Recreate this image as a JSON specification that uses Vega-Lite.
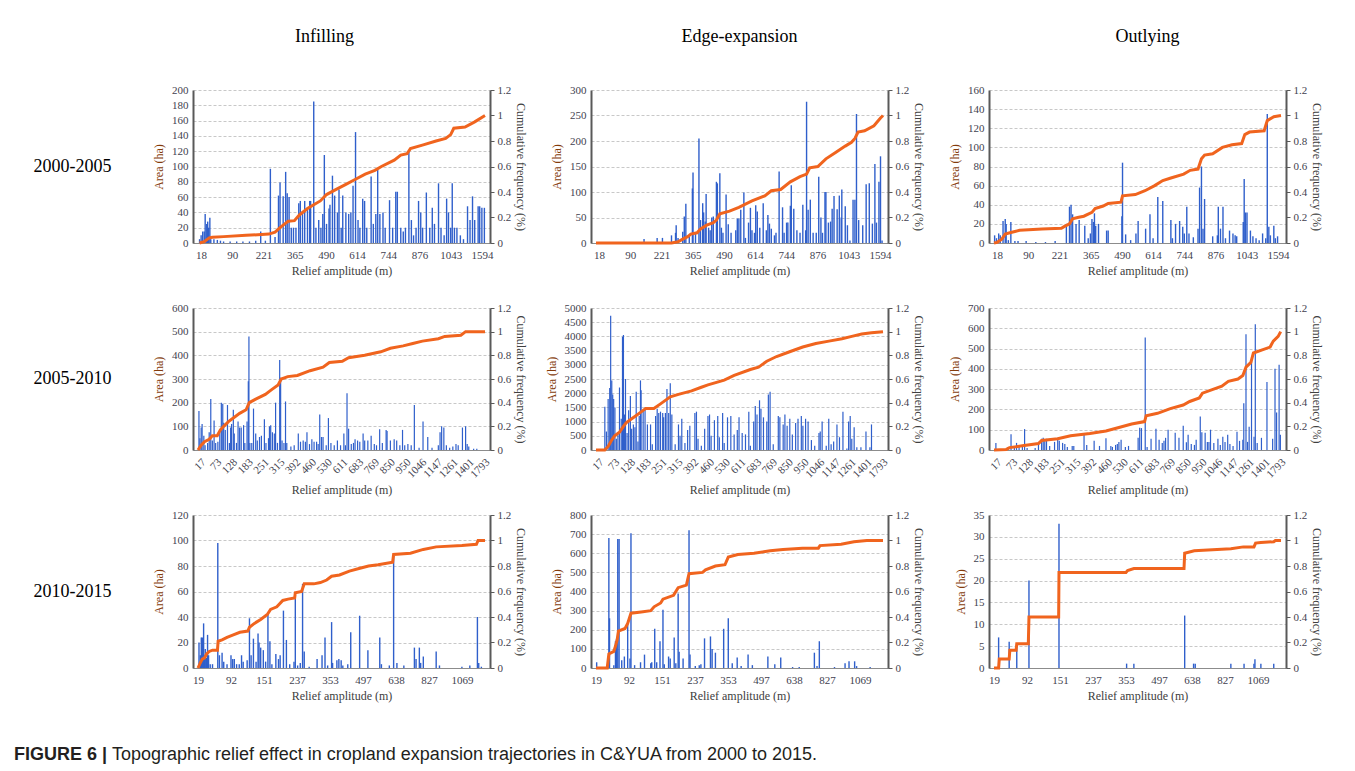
{
"$schema": "https://vega.github.io/schema/vega-lite/v6.json",
"padding": {"left": 13, "top": 28, "right": 5, "bottom": 0},
"autosize": {"type": "pad"},
"background": "white",
"datasets": {
"a1b": [{"u":-0.5,"v":5},{"u":0,"v":10},{"u":0.5,"v":15},{"u":1.0,"v":15},{"u":1.3,"v":38},{"u":1.8,"v":25},{"u":2.1,"v":28},{"u":2.4,"v":20},{"u":2.8,"v":33},{"u":3.1,"v":5},{"u":4.1,"v":5},{"u":5.2,"v":4},{"u":6.2,"v":3},{"u":7.2,"v":2},{"u":9.3,"v":2},{"u":11.4,"v":2},{"u":13.4,"v":2},{"u":15.5,"v":2},{"u":17.5,"v":3},{"u":19.1,"v":15},{"u":20.6,"v":3},{"u":22.2,"v":97},{"u":23.7,"v":8},{"u":24.8,"v":62},{"u":25.3,"v":79},{"u":26.3,"v":61},{"u":27.1,"v":93},{"u":27.6,"v":65},{"u":28.2,"v":60},{"u":28.9,"v":20},{"u":29.6,"v":20},{"u":30.4,"v":20},{"u":31.3,"v":52},{"u":31.8,"v":55},{"u":32.5,"v":40},{"u":33.2,"v":55},{"u":34.1,"v":45},{"u":34.8,"v":55},{"u":35.1,"v":55},{"u":36.1,"v":185},{"u":36.8,"v":20},{"u":37.7,"v":30},{"u":38.4,"v":20},{"u":39.0,"v":38},{"u":39.5,"v":115},{"u":40.2,"v":25},{"u":41.0,"v":45},{"u":41.3,"v":50},{"u":42.1,"v":88},{"u":42.8,"v":62},{"u":43.7,"v":40},{"u":44.2,"v":70},{"u":44.9,"v":20},{"u":45.4,"v":62},{"u":46.4,"v":40},{"u":47.3,"v":38},{"u":48.0,"v":40},{"u":48.7,"v":75},{"u":49.5,"v":145},{"u":50.3,"v":30},{"u":50.9,"v":20},{"u":51.8,"v":58},{"u":52.4,"v":55},{"u":53.1,"v":20},{"u":54.5,"v":87},{"u":55.2,"v":25},{"u":56.0,"v":38},{"u":56.6,"v":96},{"u":57.3,"v":38},{"u":58.3,"v":40},{"u":59.0,"v":20},{"u":60.4,"v":56},{"u":61.4,"v":20},{"u":62.4,"v":67},{"u":62.9,"v":67},{"u":64.0,"v":20},{"u":64.8,"v":15},{"u":65.5,"v":20},{"u":66.6,"v":120},{"u":67.4,"v":30},{"u":68.1,"v":10},{"u":68.9,"v":20},{"u":69.7,"v":55},{"u":70.4,"v":40},{"u":71.0,"v":20},{"u":72.2,"v":66},{"u":73.3,"v":20},{"u":74.1,"v":46},{"u":74.8,"v":25},{"u":76.1,"v":78},{"u":76.9,"v":20},{"u":77.9,"v":10},{"u":78.7,"v":58},{"u":79.3,"v":40},{"u":80.0,"v":20},{"u":80.5,"v":78},{"u":81.2,"v":20},{"u":82.0,"v":20},{"u":83.1,"v":10},{"u":84.1,"v":5},{"u":85.4,"v":48},{"u":86.2,"v":30},{"u":87.0,"v":61},{"u":87.7,"v":30},{"u":88.8,"v":48},{"u":89.3,"v":48},{"u":90.0,"v":46},{"u":90.8,"v":46}],
"a1c": [{"u":-0.5,"c":0},{"u":1.0,"c":0.01},{"u":2.6,"c":0.04},{"u":3.6,"c":0.045},{"u":7.2,"c":0.05},{"u":14.4,"c":0.06},{"u":21.7,"c":0.07},{"u":23.7,"c":0.085},{"u":25.3,"c":0.12},{"u":26.8,"c":0.15},{"u":27.9,"c":0.17},{"u":29.9,"c":0.175},{"u":31.5,"c":0.22},{"u":34.1,"c":0.27},{"u":36.1,"c":0.3},{"u":38.2,"c":0.33},{"u":40.2,"c":0.38},{"u":43.3,"c":0.42},{"u":46.4,"c":0.46},{"u":49.5,"c":0.5},{"u":52.6,"c":0.54},{"u":55.7,"c":0.57},{"u":57.8,"c":0.6},{"u":61.9,"c":0.65},{"u":64.0,"c":0.69},{"u":66.0,"c":0.7},{"u":67.1,"c":0.74},{"u":71.2,"c":0.77},{"u":75.3,"c":0.8},{"u":78.4,"c":0.82},{"u":80.0,"c":0.85},{"u":81.0,"c":0.9},{"u":84.6,"c":0.91},{"u":87.7,"c":0.95},{"u":91.0,"c":1.0}],
"a2b": [{"u":14.4,"v":8},{"u":18.6,"v":10},{"u":20.3,"v":10},{"u":23.2,"v":15},{"u":24.5,"v":20},{"u":24.7,"v":35},{"u":25.3,"v":10},{"u":26.8,"v":22},{"u":27.3,"v":52},{"u":27.8,"v":77},{"u":28.9,"v":15},{"u":29.9,"v":107},{"u":30.1,"v":138},{"u":30.9,"v":20},{"u":32.0,"v":205},{"u":32.5,"v":45},{"u":33.2,"v":78},{"u":33.5,"v":60},{"u":34.0,"v":42},{"u":34.3,"v":96},{"u":35.1,"v":30},{"u":35.6,"v":25},{"u":36.1,"v":50},{"u":36.6,"v":52},{"u":37.6,"v":120},{"u":37.9,"v":117},{"u":38.7,"v":137},{"u":39.2,"v":30},{"u":39.7,"v":20},{"u":40.7,"v":95},{"u":41.4,"v":37},{"u":42.3,"v":20},{"u":43.8,"v":25},{"u":44.3,"v":48},{"u":44.8,"v":48},{"u":45.4,"v":65},{"u":46.4,"v":99},{"u":46.9,"v":10},{"u":47.9,"v":40},{"u":48.5,"v":69},{"u":49.0,"v":25},{"u":49.8,"v":20},{"u":50.2,"v":74},{"u":50.7,"v":62},{"u":51.5,"v":30},{"u":52.6,"v":78},{"u":53.6,"v":25},{"u":54.1,"v":55},{"u":54.6,"v":38},{"u":55.2,"v":28},{"u":56.2,"v":15},{"u":56.7,"v":20},{"u":57.7,"v":140},{"u":58.8,"v":70},{"u":59.3,"v":20},{"u":60.1,"v":40},{"u":60.5,"v":40},{"u":61.3,"v":73},{"u":61.6,"v":113},{"u":62.4,"v":67},{"u":63.4,"v":25},{"u":64.4,"v":20},{"u":65.3,"v":75},{"u":66.2,"v":25},{"u":66.5,"v":277},{"u":67.0,"v":65},{"u":67.7,"v":85},{"u":68.6,"v":20},{"u":69.6,"v":20},{"u":70.4,"v":130},{"u":71.1,"v":50},{"u":71.6,"v":20},{"u":72.4,"v":100},{"u":72.7,"v":100},{"u":73.5,"v":40},{"u":74.2,"v":42},{"u":74.7,"v":67},{"u":75.3,"v":92},{"u":76.3,"v":66},{"u":77.0,"v":93},{"u":77.6,"v":50},{"u":77.8,"v":105},{"u":78.9,"v":72},{"u":79.6,"v":35},{"u":80.4,"v":5},{"u":81.4,"v":85},{"u":82.0,"v":85},{"u":82.5,"v":253},{"u":83.2,"v":45},{"u":84.5,"v":35},{"u":85.6,"v":115},{"u":86.6,"v":117},{"u":87.6,"v":38},{"u":88.4,"v":155},{"u":88.9,"v":40},{"u":89.7,"v":120},{"u":90.2,"v":170},{"u":90.7,"v":5}],
"a2c": [{"u":-1,"c":0},{"u":23.2,"c":0},{"u":25.3,"c":0.01},{"u":26.8,"c":0.03},{"u":28.4,"c":0.05},{"u":29.4,"c":0.07},{"u":31.4,"c":0.08},{"u":32.5,"c":0.11},{"u":34.5,"c":0.14},{"u":36.6,"c":0.16},{"u":37.6,"c":0.18},{"u":38.7,"c":0.23},{"u":41.8,"c":0.25},{"u":44.8,"c":0.28},{"u":49.0,"c":0.33},{"u":53.1,"c":0.37},{"u":55.2,"c":0.41},{"u":58.2,"c":0.42},{"u":61.3,"c":0.48},{"u":64.4,"c":0.52},{"u":66.5,"c":0.54},{"u":67.5,"c":0.59},{"u":70.1,"c":0.6},{"u":72.7,"c":0.66},{"u":75.8,"c":0.71},{"u":78.9,"c":0.76},{"u":80.9,"c":0.79},{"u":82.0,"c":0.82},{"u":83.0,"c":0.87},{"u":85.1,"c":0.88},{"u":88.1,"c":0.92},{"u":90.2,"c":0.98},{"u":91.0,"c":1.0}],
"a3b": [{"u":-0.8,"v":8},{"u":-0.2,"v":5},{"u":0.5,"v":10},{"u":1.0,"v":8},{"u":1.9,"v":23},{"u":2.6,"v":25},{"u":2.9,"v":20},{"u":3.6,"v":3},{"u":4.4,"v":22},{"u":5.7,"v":2},{"u":6.7,"v":2},{"u":9.3,"v":2},{"u":12.4,"v":1},{"u":15.5,"v":1},{"u":18.6,"v":2},{"u":22.2,"v":20},{"u":23.2,"v":38},{"u":23.7,"v":40},{"u":24.2,"v":30},{"u":25.3,"v":20},{"u":26.3,"v":24},{"u":28.1,"v":18},{"u":29.2,"v":5},{"u":29.9,"v":10},{"u":30.4,"v":25},{"u":30.9,"v":22},{"u":31.2,"v":31},{"u":31.6,"v":18},{"u":32.5,"v":20},{"u":35.1,"v":13},{"u":35.6,"v":13},{"u":40.0,"v":28},{"u":40.2,"v":84},{"u":41.2,"v":9},{"u":42.8,"v":3},{"u":44.5,"v":10},{"u":45.2,"v":23},{"u":47.6,"v":15},{"u":49.0,"v":30},{"u":50.0,"v":5},{"u":51.5,"v":48},{"u":53.1,"v":44},{"u":55.7,"v":24},{"u":56.2,"v":5},{"u":57.2,"v":20},{"u":58.5,"v":23},{"u":59.5,"v":17},{"u":60.0,"v":10},{"u":60.8,"v":38},{"u":61.5,"v":10},{"u":62.9,"v":6},{"u":64.4,"v":15},{"u":64.9,"v":58},{"u":65.5,"v":80},{"u":66.0,"v":15},{"u":66.5,"v":46},{"u":69.1,"v":7},{"u":70.6,"v":8},{"u":70.9,"v":38},{"u":71.6,"v":15},{"u":72.4,"v":38},{"u":73.2,"v":5},{"u":74.5,"v":13},{"u":75.6,"v":10},{"u":76.3,"v":8},{"u":76.8,"v":7},{"u":78.9,"v":22},{"u":79.2,"v":67},{"u":79.6,"v":32},{"u":80.1,"v":32},{"u":81.2,"v":13},{"u":82.0,"v":7},{"u":83.0,"v":5},{"u":84.0,"v":3},{"u":85.1,"v":10},{"u":86.1,"v":5},{"u":86.6,"v":135},{"u":87.1,"v":17},{"u":87.6,"v":8},{"u":88.7,"v":18},{"u":89.2,"v":5},{"u":89.9,"v":7}],
"a3c": [{"u":-1,"c":0},{"u":0,"c":0.005},{"u":1.5,"c":0.03},{"u":2.6,"c":0.07},{"u":4.1,"c":0.08},{"u":5.7,"c":0.09},{"u":7.2,"c":0.1},{"u":14.4,"c":0.11},{"u":20.6,"c":0.115},{"u":21.6,"c":0.13},{"u":23.2,"c":0.15},{"u":24.2,"c":0.19},{"u":25.8,"c":0.2},{"u":27.8,"c":0.21},{"u":30.4,"c":0.24},{"u":31.4,"c":0.27},{"u":34.0,"c":0.29},{"u":35.6,"c":0.31},{"u":39.7,"c":0.32},{"u":40.2,"c":0.37},{"u":44.3,"c":0.38},{"u":47.4,"c":0.41},{"u":50.5,"c":0.45},{"u":53.1,"c":0.49},{"u":55.7,"c":0.51},{"u":59.8,"c":0.54},{"u":61.9,"c":0.57},{"u":64.4,"c":0.58},{"u":65.5,"c":0.66},{"u":66.5,"c":0.69},{"u":69.1,"c":0.7},{"u":72.2,"c":0.75},{"u":75.3,"c":0.77},{"u":78.4,"c":0.78},{"u":79.4,"c":0.85},{"u":80.9,"c":0.87},{"u":85.6,"c":0.88},{"u":86.6,"c":0.96},{"u":88.7,"c":0.99},{"u":91.0,"c":1.0}],
"b1b": [{"u":-0.4,"v":165},{"u":0.2,"v":50},{"u":1.0,"v":95},{"u":1.6,"v":110},{"u":2.7,"v":60},{"u":3.5,"v":20},{"u":5.1,"v":30},{"u":6.1,"v":75},{"u":7.1,"v":215},{"u":8.1,"v":40},{"u":9.2,"v":125},{"u":10.2,"v":30},{"u":11.6,"v":35},{"u":12.8,"v":75},{"u":13.8,"v":200},{"u":14.7,"v":195},{"u":15.3,"v":115},{"u":16.3,"v":85},{"u":17.7,"v":190},{"u":18.9,"v":30},{"u":19.7,"v":95},{"u":20.3,"v":110},{"u":21.4,"v":170},{"u":22.0,"v":70},{"u":23.4,"v":30},{"u":24.4,"v":120},{"u":25.4,"v":95},{"u":26.4,"v":95},{"u":27.9,"v":105},{"u":28.7,"v":30},{"u":30.1,"v":120},{"u":30.9,"v":290},{"u":31.3,"v":480},{"u":31.9,"v":30},{"u":33.1,"v":30},{"u":34.2,"v":175},{"u":35.6,"v":70},{"u":36.6,"v":40},{"u":38.0,"v":55},{"u":39.2,"v":60},{"u":41.1,"v":130},{"u":42.1,"v":30},{"u":43.7,"v":50},{"u":44.3,"v":100},{"u":45.1,"v":105},{"u":46.2,"v":75},{"u":47.4,"v":70},{"u":48.2,"v":200},{"u":49.4,"v":30},{"u":50.8,"v":380},{"u":51.4,"v":305},{"u":52.3,"v":40},{"u":53.5,"v":30},{"u":54.5,"v":205},{"u":55.3,"v":30},{"u":57.9,"v":15},{"u":60.0,"v":20},{"u":62.6,"v":70},{"u":64.0,"v":35},{"u":65.7,"v":40},{"u":67.1,"v":35},{"u":68.1,"v":75},{"u":69.7,"v":25},{"u":71.2,"v":45},{"u":72.6,"v":35},{"u":74.2,"v":35},{"u":75.2,"v":25},{"u":76.2,"v":150},{"u":77.3,"v":55},{"u":78.3,"v":55},{"u":80.3,"v":20},{"u":81.7,"v":135},{"u":83.3,"v":30},{"u":85.4,"v":20},{"u":87.4,"v":40},{"u":89.4,"v":20},{"u":91.5,"v":70},{"u":92.5,"v":20},{"u":93.5,"v":240},{"u":94.5,"v":90},{"u":96.2,"v":25},{"u":97.6,"v":30},{"u":98.6,"v":45},{"u":100.2,"v":40},{"u":101.6,"v":35},{"u":103.7,"v":70},{"u":104.7,"v":40},{"u":106.7,"v":40},{"u":108.8,"v":60},{"u":110.8,"v":25},{"u":112.2,"v":20},{"u":114.2,"v":88},{"u":115.9,"v":30},{"u":118.3,"v":85},{"u":118.9,"v":80},{"u":121.0,"v":40},{"u":123.4,"v":45},{"u":125.0,"v":40},{"u":127.0,"v":20},{"u":128.7,"v":85},{"u":130.1,"v":20},{"u":132.1,"v":25},{"u":134.2,"v":20},{"u":136.2,"v":190},{"u":139.2,"v":10},{"u":141.7,"v":120},{"u":144.7,"v":55},{"u":147.4,"v":10},{"u":151.4,"v":20},{"u":152.5,"v":75},{"u":153.5,"v":100},{"u":154.9,"v":95},{"u":156.5,"v":20},{"u":158.6,"v":10},{"u":160.6,"v":15},{"u":162.6,"v":25},{"u":164.0,"v":20},{"u":166.7,"v":95},{"u":168.7,"v":100},{"u":169.7,"v":25},{"u":170.7,"v":15},{"u":173.8,"v":5},{"u":175.8,"v":5}],
"b1c": [{"u":-1,"c":0},{"u":1.0,"c":0.04},{"u":3.1,"c":0.07},{"u":6.1,"c":0.09},{"u":8.1,"c":0.12},{"u":11.2,"c":0.12},{"u":13.2,"c":0.17},{"u":15.3,"c":0.2},{"u":18.3,"c":0.24},{"u":21.4,"c":0.27},{"u":25.4,"c":0.31},{"u":29.5,"c":0.34},{"u":31.5,"c":0.4},{"u":35.6,"c":0.43},{"u":41.7,"c":0.47},{"u":45.7,"c":0.51},{"u":49.8,"c":0.55},{"u":51.8,"c":0.6},{"u":55.9,"c":0.62},{"u":62.0,"c":0.63},{"u":70.1,"c":0.67},{"u":78.3,"c":0.7},{"u":82.3,"c":0.74},{"u":90.5,"c":0.75},{"u":94.5,"c":0.78},{"u":104.7,"c":0.8},{"u":114.9,"c":0.83},{"u":121.0,"c":0.86},{"u":129.1,"c":0.88},{"u":135.2,"c":0.9},{"u":141.3,"c":0.92},{"u":151.4,"c":0.94},{"u":155.5,"c":0.96},{"u":165.7,"c":0.97},{"u":168.7,"c":1.0},{"u":181,"c":1.0}],
"b2b": [{"u":4.6,"v":1520},{"u":5.6,"v":650},{"u":6.7,"v":1800},{"u":7.7,"v":2180},{"u":8.3,"v":4730},{"u":9.0,"v":2450},{"u":9.6,"v":1950},{"u":10.2,"v":1800},{"u":11.0,"v":1500},{"u":11.9,"v":400},{"u":12.9,"v":550},{"u":13.9,"v":2200},{"u":15.0,"v":1100},{"u":15.8,"v":3990},{"u":16.4,"v":4050},{"u":17.0,"v":1250},{"u":17.7,"v":2500},{"u":18.7,"v":600},{"u":19.7,"v":1400},{"u":20.8,"v":1900},{"u":21.6,"v":750},{"u":22.7,"v":900},{"u":23.7,"v":800},{"u":24.5,"v":2050},{"u":25.6,"v":300},{"u":26.4,"v":1200},{"u":27.2,"v":2450},{"u":27.6,"v":2100},{"u":28.9,"v":1400},{"u":30.1,"v":1500},{"u":31.6,"v":900},{"u":33.6,"v":900},{"u":34.7,"v":200},{"u":36.8,"v":1200},{"u":37.8,"v":1450},{"u":38.8,"v":1300},{"u":39.9,"v":1350},{"u":41.3,"v":1300},{"u":41.9,"v":1150},{"u":43.0,"v":1300},{"u":44.0,"v":2150},{"u":45.1,"v":1300},{"u":46.1,"v":2350},{"u":47.1,"v":1250},{"u":49.2,"v":200},{"u":51.3,"v":900},{"u":52.3,"v":500},{"u":53.4,"v":1100},{"u":55.4,"v":250},{"u":57.1,"v":700},{"u":58.5,"v":850},{"u":61.7,"v":1300},{"u":62.7,"v":1350},{"u":63.7,"v":400},{"u":65.8,"v":150},{"u":67.9,"v":750},{"u":70.0,"v":1200},{"u":71.0,"v":1250},{"u":72.0,"v":500},{"u":74.1,"v":1050},{"u":76.2,"v":1200},{"u":77.2,"v":450},{"u":79.3,"v":1300},{"u":80.3,"v":250},{"u":82.4,"v":1150},{"u":84.5,"v":1200},{"u":86.6,"v":550},{"u":88.6,"v":700},{"u":89.7,"v":1150},{"u":91.7,"v":600},{"u":93.8,"v":550},{"u":95.9,"v":1350},{"u":96.9,"v":150},{"u":99.0,"v":1000},{"u":100.0,"v":1550},{"u":101.1,"v":1250},{"u":102.7,"v":1750},{"u":103.6,"v":1450},{"u":105.2,"v":1150},{"u":107.3,"v":1000},{"u":108.3,"v":1950},{"u":109.4,"v":2050},{"u":111.4,"v":200},{"u":114.6,"v":1200},{"u":115.6,"v":1150},{"u":117.7,"v":900},{"u":118.8,"v":1250},{"u":120.2,"v":850},{"u":121.9,"v":1100},{"u":123.5,"v":550},{"u":125.6,"v":950},{"u":127.1,"v":1100},{"u":129.2,"v":1200},{"u":130.2,"v":850},{"u":131.9,"v":1100},{"u":133.5,"v":1000},{"u":135.6,"v":350},{"u":137.7,"v":150},{"u":140.4,"v":600},{"u":141.2,"v":650},{"u":142.4,"v":1000},{"u":145.0,"v":150},{"u":146.6,"v":1100},{"u":148.1,"v":200},{"u":149.7,"v":300},{"u":151.8,"v":900},{"u":153.4,"v":450},{"u":155.6,"v":1350},{"u":158.1,"v":50},{"u":159.2,"v":1000},{"u":160.2,"v":1200},{"u":161.2,"v":400},{"u":162.7,"v":800},{"u":164.4,"v":100},{"u":167.0,"v":100},{"u":170.2,"v":650},{"u":172.7,"v":100},{"u":173.7,"v":900}],
"b2c": [{"u":-1,"c":0},{"u":4.6,"c":0},{"u":6.7,"c":0.03},{"u":8.8,"c":0.08},{"u":10.8,"c":0.12},{"u":13.9,"c":0.15},{"u":16.4,"c":0.2},{"u":18.1,"c":0.23},{"u":21.2,"c":0.26},{"u":24.3,"c":0.29},{"u":27.4,"c":0.32},{"u":30.5,"c":0.35},{"u":35.7,"c":0.35},{"u":39.9,"c":0.39},{"u":46.1,"c":0.45},{"u":51.3,"c":0.47},{"u":59.6,"c":0.5},{"u":65.8,"c":0.53},{"u":70.0,"c":0.55},{"u":80.3,"c":0.59},{"u":86.6,"c":0.63},{"u":96.9,"c":0.68},{"u":102.1,"c":0.7},{"u":107.3,"c":0.75},{"u":113.5,"c":0.79},{"u":121.8,"c":0.83},{"u":130.1,"c":0.87},{"u":138.4,"c":0.9},{"u":146.7,"c":0.92},{"u":155.0,"c":0.94},{"u":161.2,"c":0.96},{"u":167.5,"c":0.98},{"u":173.7,"c":0.99},{"u":181,"c":1.0}],
"b3b": [{"u":0.2,"v":35},{"u":2.7,"v":5},{"u":7.8,"v":15},{"u":9.8,"v":78},{"u":11.9,"v":20},{"u":13.3,"v":35},{"u":14.9,"v":25},{"u":17.0,"v":25},{"u":18.4,"v":103},{"u":20.0,"v":10},{"u":25.1,"v":10},{"u":27.2,"v":40},{"u":29.2,"v":55},{"u":30.2,"v":60},{"u":31.2,"v":45},{"u":32.3,"v":55},{"u":34.3,"v":20},{"u":37.4,"v":40},{"u":39.4,"v":60},{"u":40.4,"v":45},{"u":42.5,"v":35},{"u":43.9,"v":30},{"u":45.5,"v":15},{"u":48.6,"v":20},{"u":49.6,"v":20},{"u":56.1,"v":75},{"u":57.8,"v":25},{"u":62.5,"v":45},{"u":65.9,"v":20},{"u":70.0,"v":58},{"u":73.1,"v":20},{"u":74.1,"v":15},{"u":76.1,"v":25},{"u":77.2,"v":30},{"u":78.2,"v":40},{"u":79.6,"v":50},{"u":82.3,"v":15},{"u":84.3,"v":20},{"u":90.4,"v":60},{"u":91.4,"v":110},{"u":92.5,"v":108},{"u":94.9,"v":555},{"u":96.1,"v":15},{"u":98.6,"v":55},{"u":101.7,"v":105},{"u":103.7,"v":50},{"u":105.7,"v":35},{"u":106.8,"v":45},{"u":107.8,"v":60},{"u":109.4,"v":100},{"u":113.9,"v":85},{"u":116.3,"v":60},{"u":119.0,"v":120},{"u":121.0,"v":38},{"u":122.1,"v":75},{"u":124.1,"v":30},{"u":126.1,"v":25},{"u":127.2,"v":50},{"u":129.8,"v":165},{"u":130.8,"v":88},{"u":132.9,"v":85},{"u":134.3,"v":40},{"u":135.3,"v":40},{"u":136.3,"v":100},{"u":138.4,"v":35},{"u":141.0,"v":55},{"u":142.5,"v":25},{"u":144.1,"v":65},{"u":145.5,"v":40},{"u":147.2,"v":75},{"u":148.6,"v":30},{"u":150.6,"v":20},{"u":153.1,"v":90},{"u":154.7,"v":45},{"u":156.8,"v":50},{"u":157.4,"v":230},{"u":158.8,"v":570},{"u":159.8,"v":40},{"u":160.8,"v":115},{"u":162.3,"v":450},{"u":163.9,"v":65},{"u":164.7,"v":620},{"u":165.9,"v":35},{"u":168.6,"v":60},{"u":172.1,"v":335},{"u":175.7,"v":55},{"u":177.2,"v":400},{"u":178.2,"v":185},{"u":179.8,"v":420},{"u":180.6,"v":75}],
"b3c": [{"u":-1,"c":0},{"u":6.8,"c":0.005},{"u":8.8,"c":0.02},{"u":17.0,"c":0.035},{"u":27.2,"c":0.055},{"u":29.2,"c":0.08},{"u":39.4,"c":0.095},{"u":47.6,"c":0.12},{"u":59.8,"c":0.14},{"u":70.0,"c":0.16},{"u":78.2,"c":0.19},{"u":86.3,"c":0.22},{"u":94.5,"c":0.24},{"u":95.5,"c":0.29},{"u":102.7,"c":0.31},{"u":110.8,"c":0.35},{"u":119.0,"c":0.38},{"u":123.1,"c":0.41},{"u":129.2,"c":0.44},{"u":131.2,"c":0.48},{"u":137.4,"c":0.51},{"u":143.5,"c":0.54},{"u":147.6,"c":0.58},{"u":153.7,"c":0.6},{"u":156.8,"c":0.63},{"u":158.8,"c":0.7},{"u":161.9,"c":0.74},{"u":163.5,"c":0.82},{"u":170.0,"c":0.85},{"u":174.1,"c":0.87},{"u":176.1,"c":0.92},{"u":179.2,"c":0.96},{"u":180.8,"c":1.0}],
"c1b": [{"u":0.3,"v":20},{"u":0.7,"v":10},{"u":1.0,"v":24},{"u":1.3,"v":24},{"u":1.7,"v":35},{"u":2.0,"v":10},{"u":2.2,"v":15},{"u":2.6,"v":8},{"u":2.9,"v":26},{"u":3.2,"v":10},{"u":3.7,"v":3},{"u":4.4,"v":3},{"u":6.0,"v":98},{"u":6.5,"v":10},{"u":7.3,"v":12},{"u":7.8,"v":5},{"u":8.8,"v":3},{"u":10.0,"v":10},{"u":10.5,"v":7},{"u":11.0,"v":7},{"u":11.7,"v":3},{"u":12.5,"v":3},{"u":13.2,"v":10},{"u":13.7,"v":5},{"u":14.9,"v":6},{"u":15.6,"v":39},{"u":16.1,"v":10},{"u":16.8,"v":23},{"u":17.6,"v":5},{"u":18.2,"v":27},{"u":18.5,"v":20},{"u":19.0,"v":16},{"u":19.8,"v":14},{"u":20.5,"v":5},{"u":21.2,"v":43},{"u":21.8,"v":21},{"u":22.4,"v":3},{"u":23.6,"v":11},{"u":24.4,"v":7},{"u":24.9,"v":10},{"u":25.9,"v":45},{"u":26.8,"v":22},{"u":27.8,"v":3},{"u":29.1,"v":5},{"u":29.5,"v":57},{"u":30.2,"v":2},{"u":31.0,"v":4},{"u":31.7,"v":66},{"u":32.2,"v":13},{"u":33.7,"v":1},{"u":36.1,"v":7},{"u":37.6,"v":10},{"u":38.5,"v":24},{"u":39.3,"v":2},{"u":40.5,"v":36},{"u":40.8,"v":4},{"u":42.1,"v":6},{"u":42.7,"v":7},{"u":43.4,"v":6},{"u":43.9,"v":2},{"u":45.4,"v":3},{"u":46.3,"v":28},{"u":49.0,"v":41},{"u":51.5,"v":14},{"u":55.1,"v":24},{"u":55.6,"v":3},{"u":58.0,"v":2},{"u":59.3,"v":88},{"u":60.3,"v":4},{"u":62.4,"v":2},{"u":65.6,"v":16},{"u":66.1,"v":7},{"u":67.1,"v":16},{"u":67.5,"v":4},{"u":68.3,"v":9},{"u":72.2,"v":13},{"u":73.2,"v":2},{"u":80.0,"v":1},{"u":82.4,"v":2},{"u":84.7,"v":40},{"u":85.1,"v":4},{"u":85.9,"v":1}],
"c1c": [{"u":0,"c":0},{"u":0.7,"c":0.04},{"u":1.3,"c":0.07},{"u":2.0,"c":0.08},{"u":2.6,"c":0.11},{"u":3.4,"c":0.13},{"u":4.4,"c":0.14},{"u":5.9,"c":0.14},{"u":6.1,"c":0.21},{"u":7.3,"c":0.22},{"u":8.8,"c":0.24},{"u":10.7,"c":0.26},{"u":12.7,"c":0.28},{"u":15.1,"c":0.29},{"u":15.6,"c":0.32},{"u":17.1,"c":0.35},{"u":19.0,"c":0.38},{"u":21.0,"c":0.42},{"u":22.0,"c":0.46},{"u":23.9,"c":0.48},{"u":25.7,"c":0.53},{"u":27.3,"c":0.54},{"u":29.3,"c":0.55},{"u":29.5,"c":0.59},{"u":31.4,"c":0.6},{"u":32.2,"c":0.66},{"u":35.1,"c":0.66},{"u":37.1,"c":0.67},{"u":39.0,"c":0.69},{"u":40.5,"c":0.72},{"u":42.9,"c":0.73},{"u":45.9,"c":0.76},{"u":48.8,"c":0.78},{"u":51.7,"c":0.8},{"u":54.6,"c":0.81},{"u":59.0,"c":0.83},{"u":59.3,"c":0.89},{"u":64.4,"c":0.9},{"u":68.3,"c":0.93},{"u":72.2,"c":0.95},{"u":80.0,"c":0.96},{"u":84.4,"c":0.97},{"u":84.9,"c":1.0},{"u":87,"c":1.0}],
"c2b": [{"u":0.2,"v":30},{"u":3.9,"v":680},{"u":4.1,"v":260},{"u":5.4,"v":15},{"u":5.9,"v":140},{"u":6.2,"v":150},{"u":6.6,"v":675},{"u":7.0,"v":675},{"u":7.8,"v":40},{"u":8.6,"v":60},{"u":9.6,"v":250},{"u":10.3,"v":50},{"u":10.6,"v":705},{"u":11.7,"v":15},{"u":13.5,"v":30},{"u":14.7,"v":70},{"u":16.6,"v":25},{"u":16.9,"v":30},{"u":17.8,"v":205},{"u":18.4,"v":30},{"u":19.4,"v":140},{"u":20.3,"v":305},{"u":20.7,"v":20},{"u":22.0,"v":60},{"u":22.5,"v":50},{"u":23.7,"v":160},{"u":24.2,"v":25},{"u":24.9,"v":390},{"u":25.2,"v":85},{"u":26.4,"v":50},{"u":28.2,"v":720},{"u":28.5,"v":70},{"u":30.1,"v":10},{"u":31.3,"v":15},{"u":31.8,"v":20},{"u":32.9,"v":155},{"u":34.7,"v":165},{"u":35.2,"v":100},{"u":36.2,"v":80},{"u":38.7,"v":205},{"u":40.1,"v":260},{"u":41.3,"v":25},{"u":42.8,"v":55},{"u":44.0,"v":10},{"u":46.1,"v":70},{"u":47.4,"v":15},{"u":52.1,"v":60},{"u":54.2,"v":20},{"u":56.0,"v":55},{"u":59.6,"v":5},{"u":61.6,"v":5},{"u":66.2,"v":80},{"u":67.0,"v":10},{"u":67.7,"v":140},{"u":72.3,"v":5},{"u":75.5,"v":25},{"u":76.7,"v":35},{"u":78.4,"v":35},{"u":79.0,"v":10},{"u":83.1,"v":5}],
"c2c": [{"u":0,"c":0},{"u":3.4,"c":0},{"u":3.9,"c":0.11},{"u":5.4,"c":0.13},{"u":5.9,"c":0.17},{"u":6.4,"c":0.22},{"u":6.8,"c":0.29},{"u":8.8,"c":0.31},{"u":9.6,"c":0.35},{"u":10.6,"c":0.43},{"u":13.7,"c":0.44},{"u":16.6,"c":0.45},{"u":17.6,"c":0.48},{"u":19.6,"c":0.51},{"u":20.3,"c":0.54},{"u":23.5,"c":0.57},{"u":24.9,"c":0.63},{"u":27.4,"c":0.65},{"u":28.2,"c":0.74},{"u":32.3,"c":0.75},{"u":33.2,"c":0.77},{"u":36.2,"c":0.8},{"u":39.1,"c":0.81},{"u":40.1,"c":0.87},{"u":43.0,"c":0.89},{"u":47.9,"c":0.9},{"u":52.8,"c":0.92},{"u":56.7,"c":0.93},{"u":62.6,"c":0.94},{"u":67.4,"c":0.94},{"u":67.9,"c":0.96},{"u":74.3,"c":0.97},{"u":78.2,"c":0.99},{"u":82.1,"c":1.0},{"u":87,"c":1.0}],
"c3b": [{"u":1.4,"v":7},{"u":4.6,"v":6},{"u":6.9,"v":5},{"u":10.6,"v":20},{"u":19.7,"v":33},{"u":40.2,"v":1},{"u":42.4,"v":1},{"u":57.8,"v":12},{"u":60.5,"v":1},{"u":61.0,"v":1},{"u":71.8,"v":1},{"u":75.8,"v":1},{"u":78.8,"v":1},{"u":79.1,"v":2},{"u":80.9,"v":1},{"u":84.8,"v":1}],
"c3c": [{"u":0,"c":0},{"u":1.4,"c":0},{"u":1.6,"c":0.07},{"u":4.6,"c":0.07},{"u":4.8,"c":0.14},{"u":6.7,"c":0.14},{"u":6.9,"c":0.19},{"u":10.4,"c":0.19},{"u":10.6,"c":0.4},{"u":19.6,"c":0.4},{"u":19.7,"c":0.75},{"u":40.0,"c":0.75},{"u":40.5,"c":0.765},{"u":42.4,"c":0.78},{"u":57.6,"c":0.78},{"u":57.8,"c":0.9},{"u":60.7,"c":0.92},{"u":71.8,"c":0.935},{"u":75.6,"c":0.95},{"u":78.8,"c":0.95},{"u":79.3,"c":0.98},{"u":80.9,"c":0.985},{"u":84.8,"c":0.99},{"u":85.3,"c":1.0},{"u":87,"c":1.0}]
},
"vconcat": [
{"concat": [
  {"width": 79, "height": 153, "data": {"values": [{"t": "2000-2005"}]}, "mark": {"type": "text", "font": "Liberation Serif", "fontSize": 18, "color": "#000000", "dx": 20}, "encoding": {"text": {"field": "t"}}},
  {"width": 297, "height": 153, "title": {"text": "Infilling", "font": "Liberation Serif", "fontSize": 18, "fontWeight": "normal", "color": "#000000", "offset": 38, "dx": -17},
   "encoding": {"x": {"field": "u", "type": "quantitative", "scale": {"domain": [-1, 91], "nice": false, "zero": false}, "axis": {"title": "Relief amplitude (m)", "values": [0,10,20,30,40,50,60,70,80,90], "labelExpr": "['18','90','221','365','490','614','744','876','1043','1594'][round(datum.value/10)]", "labelAngle": 0, "labelFlush": false, "labelOverlap": false}}},
   "layer": [
    {"data": {"name": "a1b"}, "mark": {"type": "bar", "width": 1.4, "color": "#2F5FCB"}, "encoding": {"y": {"field": "v", "type": "quantitative", "scale": {"domain": [0, 200], "nice": false}, "axis": {"title": "Area (ha)", "values": [0,20,40,60,80,100,120,140,160,180,200], "format": "d"}}}},
    {"data": {"name": "a1c"}, "mark": {"type": "line", "color": "#F0641E", "strokeWidth": 3}, "encoding": {"y": {"field": "c", "type": "quantitative", "scale": {"domain": [0, 1.2], "nice": false}, "axis": {"orient": "right", "title": "Cumulative frequency (%)", "values": [0,0.2,0.4,0.6,0.8,1,1.2], "format": "~g"}}}}
   ],
   "resolve": {"scale": {"y": "independent"}}},
  {"width": 297, "height": 153, "title": {"text": "Edge-expansion", "font": "Liberation Serif", "fontSize": 18, "fontWeight": "normal", "color": "#000000", "offset": 38},
   "encoding": {"x": {"field": "u", "type": "quantitative", "scale": {"domain": [-1, 91], "nice": false, "zero": false}, "axis": {"title": "Relief amplitude (m)", "values": [0,10,20,30,40,50,60,70,80,90], "labelExpr": "['18','90','221','365','490','614','744','876','1043','1594'][round(datum.value/10)]", "labelAngle": 0, "labelFlush": false, "labelOverlap": false}}},
   "layer": [
    {"data": {"name": "a2b"}, "mark": {"type": "bar", "width": 1.4, "color": "#2F5FCB"}, "encoding": {"y": {"field": "v", "type": "quantitative", "scale": {"domain": [0, 300], "nice": false}, "axis": {"title": "Area (ha)", "values": [0,50,100,150,200,250,300], "format": "d"}}}},
    {"data": {"name": "a2c"}, "mark": {"type": "line", "color": "#F0641E", "strokeWidth": 3}, "encoding": {"y": {"field": "c", "type": "quantitative", "scale": {"domain": [0, 1.2], "nice": false}, "axis": {"orient": "right", "title": "Cumulative frequency (%)", "values": [0,0.2,0.4,0.6,0.8,1,1.2], "format": "~g"}}}}
   ],
   "resolve": {"scale": {"y": "independent"}}},
  {"width": 297, "height": 153, "title": {"text": "Outlying", "font": "Liberation Serif", "fontSize": 18, "fontWeight": "normal", "color": "#000000", "offset": 38, "dx": 10},
   "encoding": {"x": {"field": "u", "type": "quantitative", "scale": {"domain": [-1, 91], "nice": false, "zero": false}, "axis": {"title": "Relief amplitude (m)", "values": [0,10,20,30,40,50,60,70,80,90], "labelExpr": "['18','90','221','365','490','614','744','876','1043','1594'][round(datum.value/10)]", "labelAngle": 0, "labelFlush": false, "labelOverlap": false}}},
   "layer": [
    {"data": {"name": "a3b"}, "mark": {"type": "bar", "width": 1.4, "color": "#2F5FCB"}, "encoding": {"y": {"field": "v", "type": "quantitative", "scale": {"domain": [0, 160], "nice": false}, "axis": {"title": "Area (ha)", "values": [0,20,40,60,80,100,120,140,160], "format": "d"}}}},
    {"data": {"name": "a3c"}, "mark": {"type": "line", "color": "#F0641E", "strokeWidth": 3}, "encoding": {"y": {"field": "c", "type": "quantitative", "scale": {"domain": [0, 1.2], "nice": false}, "axis": {"orient": "right", "title": "Cumulative frequency (%)", "values": [0,0.2,0.4,0.6,0.8,1,1.2], "format": "~g"}}}}
   ],
   "resolve": {"scale": {"y": "independent"}}},
  {"width": 79, "height": 142, "data": {"values": [{"t": "2005-2010"}]}, "mark": {"type": "text", "font": "Liberation Serif", "fontSize": 18, "color": "#000000", "dx": 20}, "encoding": {"text": {"field": "t"}}},
  {"width": 297, "height": 142,
   "encoding": {"x": {"field": "u", "type": "quantitative", "scale": {"domain": [-1, 181], "nice": false, "zero": false}, "axis": {"title": "Relief amplitude (m)", "values": [0,10,20,30,40,50,60,70,80,90,100,110,120,130,140,150,160,170,180], "labelExpr": "['17','73','128','183','251','315','392','460','530','611','683','769','850','950','1046','1147','1261','1401','1793'][round(datum.value/10)]", "labelAngle": -45, "labelFlush": false, "labelOverlap": false}}},
   "layer": [
    {"data": {"name": "b1b"}, "mark": {"type": "bar", "width": 1.2, "color": "#2F5FCB"}, "encoding": {"y": {"field": "v", "type": "quantitative", "scale": {"domain": [0, 600], "nice": false}, "axis": {"title": "Area (ha)", "values": [0,100,200,300,400,500,600], "format": "d"}}}},
    {"data": {"name": "b1c"}, "mark": {"type": "line", "color": "#F0641E", "strokeWidth": 3}, "encoding": {"y": {"field": "c", "type": "quantitative", "scale": {"domain": [0, 1.2], "nice": false}, "axis": {"orient": "right", "title": "Cumulative frequency (%)", "values": [0,0.2,0.4,0.6,0.8,1,1.2], "format": "~g"}}}}
   ],
   "resolve": {"scale": {"y": "independent"}}},
  {"width": 297, "height": 142,
   "encoding": {"x": {"field": "u", "type": "quantitative", "scale": {"domain": [-1, 181], "nice": false, "zero": false}, "axis": {"title": "Relief amplitude (m)", "values": [0,10,20,30,40,50,60,70,80,90,100,110,120,130,140,150,160,170,180], "labelExpr": "['17','73','128','183','251','315','392','460','530','611','683','769','850','950','1046','1147','1261','1401','1793'][round(datum.value/10)]", "labelAngle": -45, "labelFlush": false, "labelOverlap": false}}},
   "layer": [
    {"data": {"name": "b2b"}, "mark": {"type": "bar", "width": 1.2, "color": "#2F5FCB"}, "encoding": {"y": {"field": "v", "type": "quantitative", "scale": {"domain": [0, 5000], "nice": false}, "axis": {"title": "Area (ha)", "values": [0,500,1000,1500,2000,2500,3000,3500,4000,4500,5000], "format": "d"}}}},
    {"data": {"name": "b2c"}, "mark": {"type": "line", "color": "#F0641E", "strokeWidth": 3}, "encoding": {"y": {"field": "c", "type": "quantitative", "scale": {"domain": [0, 1.2], "nice": false}, "axis": {"orient": "right", "title": "Cumulative frequency (%)", "values": [0,0.2,0.4,0.6,0.8,1,1.2], "format": "~g"}}}}
   ],
   "resolve": {"scale": {"y": "independent"}}},
  {"width": 297, "height": 142,
   "encoding": {"x": {"field": "u", "type": "quantitative", "scale": {"domain": [-1, 181], "nice": false, "zero": false}, "axis": {"title": "Relief amplitude (m)", "values": [0,10,20,30,40,50,60,70,80,90,100,110,120,130,140,150,160,170,180], "labelExpr": "['17','73','128','183','251','315','392','460','530','611','683','769','850','950','1046','1147','1261','1401','1793'][round(datum.value/10)]", "labelAngle": -45, "labelFlush": false, "labelOverlap": false}}},
   "layer": [
    {"data": {"name": "b3b"}, "mark": {"type": "bar", "width": 1.2, "color": "#2F5FCB"}, "encoding": {"y": {"field": "v", "type": "quantitative", "scale": {"domain": [0, 700], "nice": false}, "axis": {"title": "Area (ha)", "values": [0,100,200,300,400,500,600,700], "format": "d"}}}},
    {"data": {"name": "b3c"}, "mark": {"type": "line", "color": "#F0641E", "strokeWidth": 3}, "encoding": {"y": {"field": "c", "type": "quantitative", "scale": {"domain": [0, 1.2], "nice": false}, "axis": {"orient": "right", "title": "Cumulative frequency (%)", "values": [0,0.2,0.4,0.6,0.8,1,1.2], "format": "~g"}}}}
   ],
   "resolve": {"scale": {"y": "independent"}}},
  {"width": 79, "height": 153, "data": {"values": [{"t": "2010-2015"}]}, "mark": {"type": "text", "font": "Liberation Serif", "fontSize": 18, "color": "#000000", "dx": 20}, "encoding": {"text": {"field": "t"}}},
  {"width": 297, "height": 153,
   "encoding": {"x": {"field": "u", "type": "quantitative", "scale": {"domain": [0, 87], "nice": false, "zero": false}, "axis": {"title": "Relief amplitude (m)", "values": [0,10,20,30,40,50,60,70,80], "labelExpr": "['19','92','151','237','353','497','638','827','1069'][round(datum.value/10)]", "labelAngle": 0, "labelFlush": false, "labelOverlap": false}}},
   "layer": [
    {"data": {"name": "c1b"}, "mark": {"type": "bar", "width": 1.4, "color": "#2F5FCB"}, "encoding": {"y": {"field": "v", "type": "quantitative", "scale": {"domain": [0, 120], "nice": false}, "axis": {"title": "Area (ha)", "values": [0,20,40,60,80,100,120], "format": "d"}}}},
    {"data": {"name": "c1c"}, "mark": {"type": "line", "color": "#F0641E", "strokeWidth": 3}, "encoding": {"y": {"field": "c", "type": "quantitative", "scale": {"domain": [0, 1.2], "nice": false}, "axis": {"orient": "right", "title": "Cumulative frequency (%)", "values": [0,0.2,0.4,0.6,0.8,1,1.2], "format": "~g"}}}}
   ],
   "resolve": {"scale": {"y": "independent"}}},
  {"width": 297, "height": 153,
   "encoding": {"x": {"field": "u", "type": "quantitative", "scale": {"domain": [0, 87], "nice": false, "zero": false}, "axis": {"title": "Relief amplitude (m)", "values": [0,10,20,30,40,50,60,70,80], "labelExpr": "['19','92','151','237','353','497','638','827','1069'][round(datum.value/10)]", "labelAngle": 0, "labelFlush": false, "labelOverlap": false}}},
   "layer": [
    {"data": {"name": "c2b"}, "mark": {"type": "bar", "width": 1.4, "color": "#2F5FCB"}, "encoding": {"y": {"field": "v", "type": "quantitative", "scale": {"domain": [0, 800], "nice": false}, "axis": {"title": "Area (ha)", "values": [0,100,200,300,400,500,600,700,800], "format": "d"}}}},
    {"data": {"name": "c2c"}, "mark": {"type": "line", "color": "#F0641E", "strokeWidth": 3}, "encoding": {"y": {"field": "c", "type": "quantitative", "scale": {"domain": [0, 1.2], "nice": false}, "axis": {"orient": "right", "title": "Cumulative frequency (%)", "values": [0,0.2,0.4,0.6,0.8,1,1.2], "format": "~g"}}}}
   ],
   "resolve": {"scale": {"y": "independent"}}},
  {"width": 297, "height": 153,
   "encoding": {"x": {"field": "u", "type": "quantitative", "scale": {"domain": [0, 87], "nice": false, "zero": false}, "axis": {"title": "Relief amplitude (m)", "values": [0,10,20,30,40,50,60,70,80], "labelExpr": "['19','92','151','237','353','497','638','827','1069'][round(datum.value/10)]", "labelAngle": 0, "labelFlush": false, "labelOverlap": false}}},
   "layer": [
    {"data": {"name": "c3b"}, "mark": {"type": "bar", "width": 1.4, "color": "#2F5FCB"}, "encoding": {"y": {"field": "v", "type": "quantitative", "scale": {"domain": [0, 35], "nice": false}, "axis": {"title": "Area (ha)", "values": [0,5,10,15,20,25,30,35], "format": "d"}}}},
    {"data": {"name": "c3c"}, "mark": {"type": "line", "color": "#F0641E", "strokeWidth": 3}, "encoding": {"y": {"field": "c", "type": "quantitative", "scale": {"domain": [0, 1.2], "nice": false}, "axis": {"orient": "right", "title": "Cumulative frequency (%)", "values": [0,0.2,0.4,0.6,0.8,1,1.2], "format": "~g"}}}}
   ],
   "resolve": {"scale": {"y": "independent"}}}
 ],
 "columns": 4, "spacing": {"row": 65, "column": 101}, "bounds": "flush"},
{"width": 188, "height": 36,
 "layer": [
  {"data": {"values": [{"t": "FIGURE 6 |"}]}, "mark": {"type": "text", "align": "right", "font": "Liberation Sans", "fontSize": 18, "fontWeight": "bold", "color": "#231F20"}, "encoding": {"text": {"field": "t"}}},
  {"data": {"values": [{"t": "Topographic relief effect in cropland expansion trajectories in C&YUA from 2000 to 2015."}]}, "mark": {"type": "text", "align": "left", "dx": 5, "font": "Liberation Sans", "fontSize": 18, "color": "#231F20"}, "encoding": {"text": {"field": "t"}}}
 ]}
],
"spacing": 36,
"config": {
  "view": {"stroke": null},
  "axis": {"labelFont": "Liberation Serif", "labelFontSize": 11, "labelColor": "#3F3F4F", "titleFont": "Liberation Serif", "titleFontSize": 12, "titleFontWeight": "normal", "titleColor": "#404040"},
  "axisX": {"grid": false, "ticks": false, "domainColor": "#8C8C8C", "labelPadding": 6, "titlePadding": 5},
  "axisLeft": {"ticks": false, "domainColor": "#595959", "domainWidth": 2, "gridColor": "#C8C8C8", "gridDash": [3, 2], "titleColor": "#843C0C", "labelPadding": 5, "titlePadding": 6},
  "axisRight": {"grid": false, "domainColor": "#595959", "domainWidth": 2, "tickColor": "#595959", "tickSize": 4, "labelPadding": 3, "titlePadding": 3}
}
}
